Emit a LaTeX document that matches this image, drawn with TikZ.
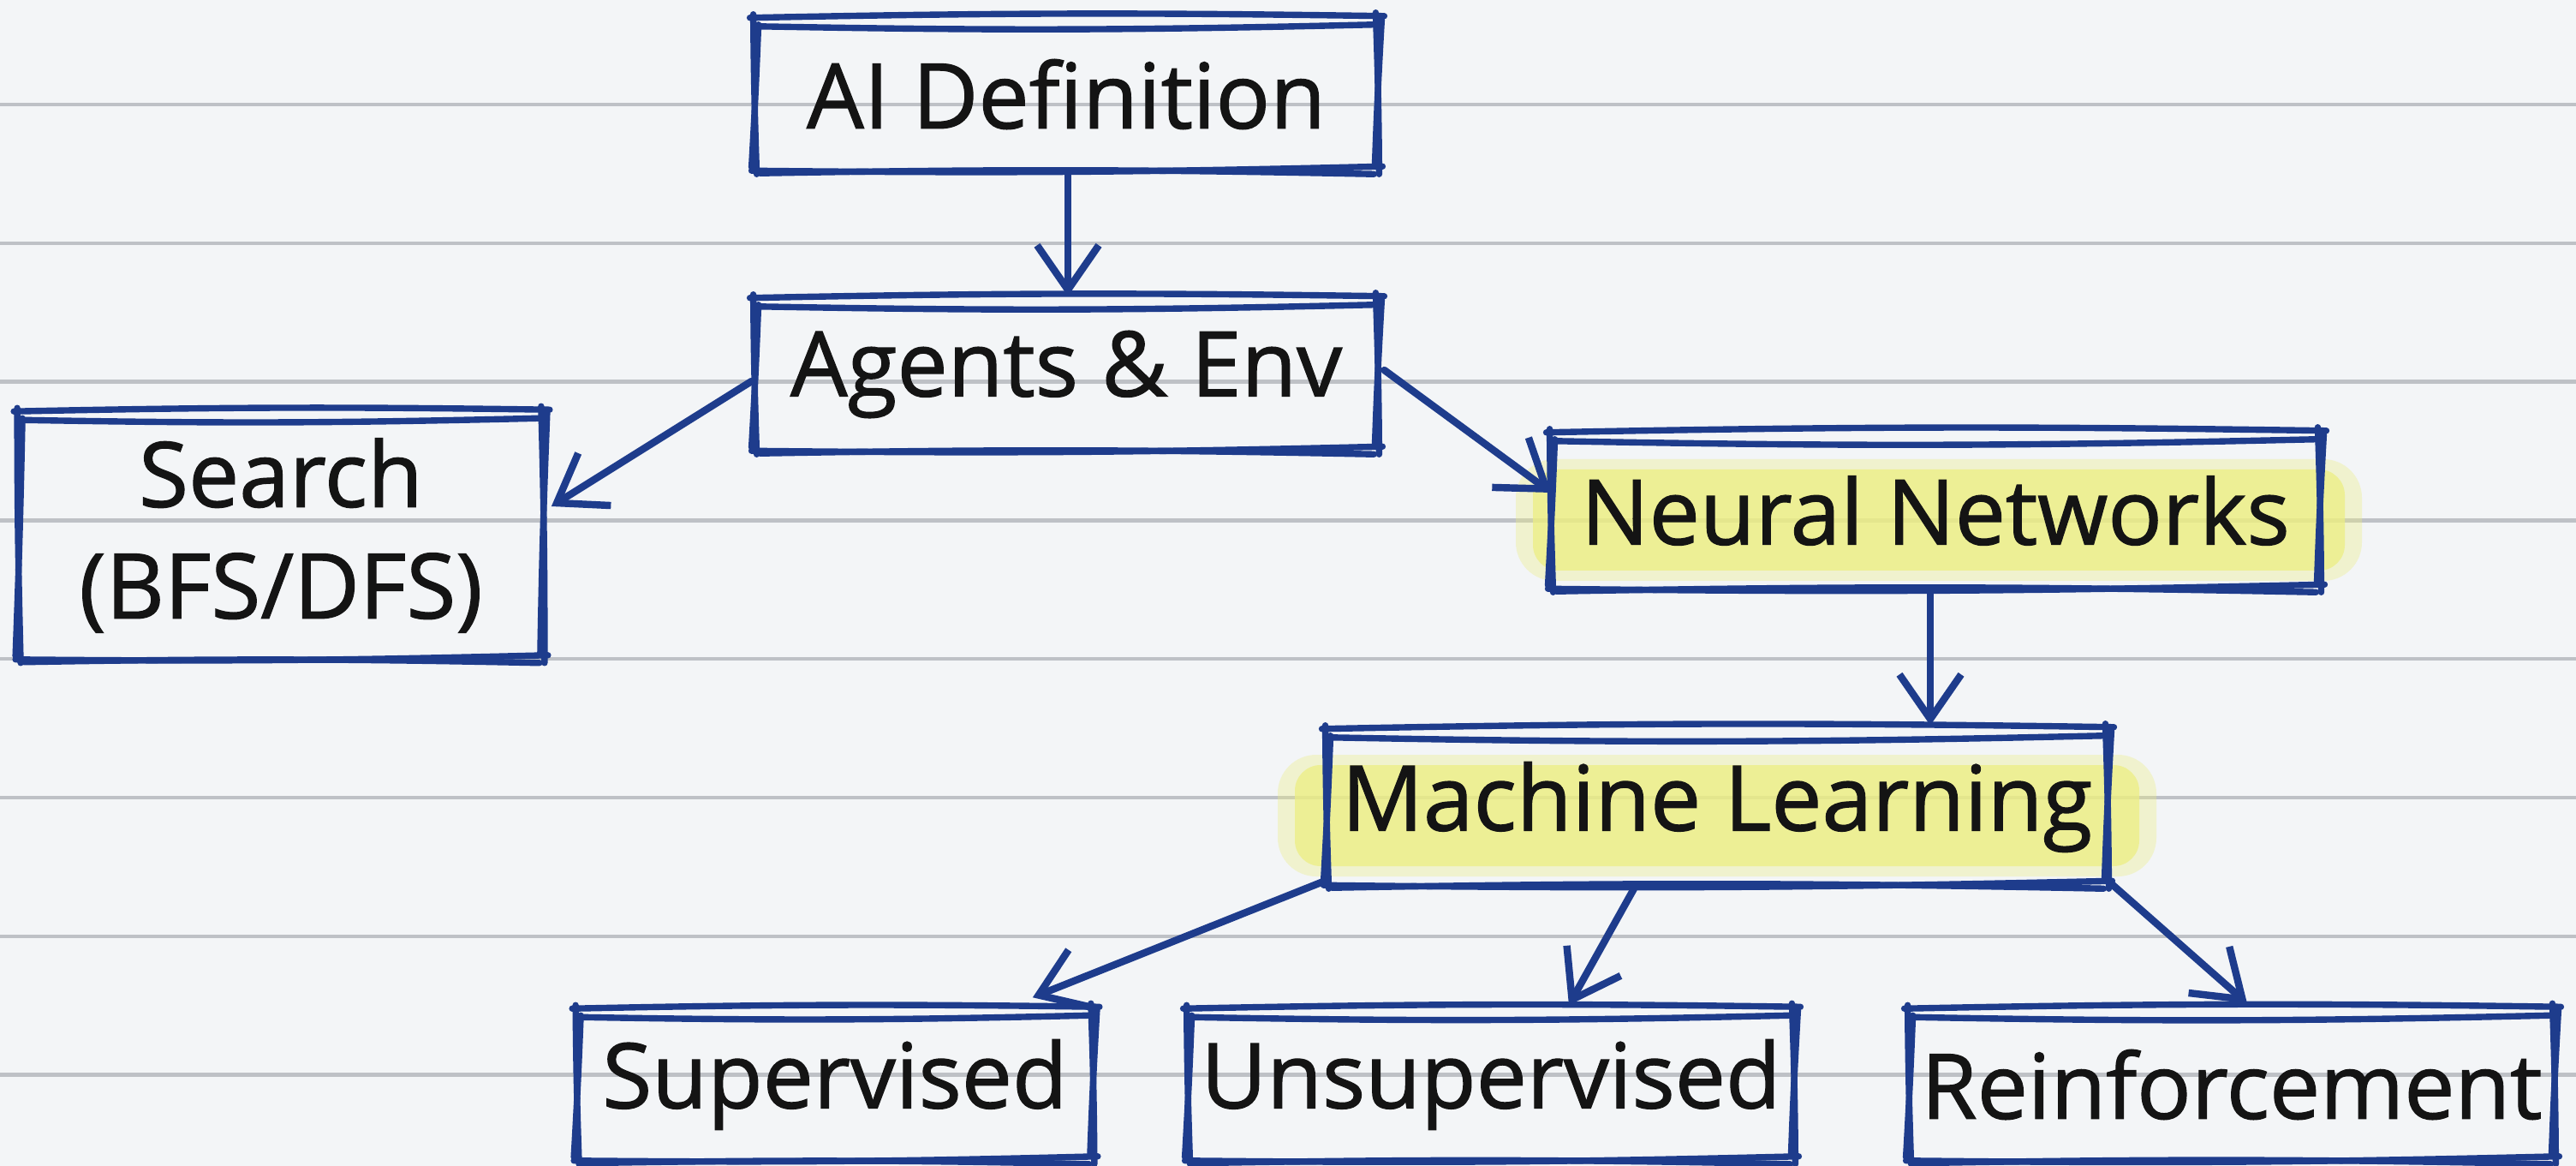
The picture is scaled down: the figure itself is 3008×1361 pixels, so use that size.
\documentclass[tikz,border=0pt]{standalone}
\usepackage{fontspec}
\newfontfamily\handfont{Open Sans}[FakeBold=1.2]
\usetikzlibrary{arrows.meta,calc}
\definecolor{paper}{RGB}{243,245,247}
\definecolor{ruleclr}{RGB}{190,193,198}
\definecolor{penblue}{RGB}{30,60,140}
\definecolor{hlyellow}{RGB}{236,238,130}
\tikzset{
  penline/.style={draw=penblue, line width=2.1pt, line cap=round, line join=round},
  arr/.style={draw=penblue, line width=2.4pt, line cap=round,
    -{Straight Barb[length=0.52cm,width=0.72cm,line width=2.4pt]}},
  sbox/.style={inner sep=0pt, font=\handfont\fontsize{30}{37}\selectfont, text=black!92, align=center},
  ruleline/.style={draw=ruleclr, line width=1.2pt},
  hlsoft/.style={fill=hlyellow, opacity=0.35, rounded corners=0.45cm},
  hlcore/.style={fill=hlyellow, opacity=0.75, rounded corners=0.3cm},
}
\begin{document}
\begin{tikzpicture}[x=0.01cm,y=-0.01cm]
\useasboundingbox (0,0) rectangle (3008,1361);
\fill[paper] (0,0) rectangle (3008,1361);
% ruled paper
\foreach \k in {0,...,7}
  \draw[ruleline] (0,{122+161.8*\k}) -- (3008,{122+161.8*\k});
% highlights
\fill[hlsoft] (1770,536) rectangle (2758,678);
\fill[hlcore] (1790,548) rectangle (2738,666);
\fill[hlsoft] (1492,881) rectangle (2518,1023);
\fill[hlcore] (1512,893) rectangle (2498,1011);
% nodes
\node[sbox, minimum width=7.25cm, minimum height=1.73cm] (ai) at (1245,110) {AI Definition};
\node[sbox, minimum width=7.25cm, minimum height=1.73cm] (ag) at (1245,437) {Agents \& Env};
\node[sbox, minimum width=6.10cm, minimum height=2.84cm] (se) at (328,625) {Search\\(BFS/DFS)};
\node[sbox, minimum width=8.95cm, minimum height=1.77cm] (nn) at (2260,596) {Neural Networks};
\node[sbox, minimum width=9.09cm, minimum height=1.77cm] (ml) at (2005,942) {Machine Learning};
\node[sbox, minimum width=6.00cm, minimum height=1.72cm] (su) at (975,1266) {Supervised};
\node[sbox, minimum width=7.05cm, minimum height=1.72cm] (un) at (1741,1266) {Unsupervised};
\node[sbox, minimum width=7.51cm, minimum height=1.72cm] (re) at (2606,1266) {Reinforcement};
% sketchy borders
\foreach \n in {ai,ag,se,nn,ml,su,un,re}{
  \draw[penline] ($(\n.north west)+(-6,-2)$) to[bend left=1] ($(\n.north east)+(8,-4)$);
  \draw[penline] ($(\n.north west)+(2,8)$) to[bend right=1.2] ($(\n.north east)+(-4,6)$);
  \draw[penline] ($(\n.north east)+(-2,-8)$) to[bend left=0.8] ($(\n.south east)+(2,6)$);
  \draw[penline] ($(\n.north east)+(5,0)$) to[bend right=0.6] ($(\n.south east)+(-3,-4)$);
  \draw[penline] ($(\n.south east)+(6,-3)$) to[bend left=1] ($(\n.south west)+(-4,2)$);
  \draw[penline] ($(\n.south east)+(-4,6)$) to[bend right=1.1] ($(\n.south west)+(6,5)$);
  \draw[penline] ($(\n.south west)+(2,6)$) to[bend left=0.7] ($(\n.north west)+(-2,-6)$);
  \draw[penline] ($(\n.south west)+(-4,-2)$) to[bend right=0.5] ($(\n.north west)+(4,6)$);
}
% connectors
\draw[arr] ($(ai.south)+(2,6)$) -- ($(ag.north)+(2,-4)$);
\draw[arr] ($(ag.west)+(-4,8)$) -- ($(se.east)+(10,-34)$);
\draw[arr] ($(ag.east)+(8,-5)$) -- ($(nn.west)+(0,-21)$);
\draw[arr] ($(nn.south)+(-6,6)$) -- ($(ml.north)+(249,-6)$);
\draw[arr] ($(ml.south west)+(0,-4)$) -- ($(su.north east)+(-70,-15)$);
\draw[arr] ($(ml.south)+(-97,6)$) -- ($(un.north)+(91,-6)$);
\draw[arr] ($(ml.south east)+(0,-4)$) -- ($(re.north)+(18,-8)$);
\end{tikzpicture}
\end{document}
